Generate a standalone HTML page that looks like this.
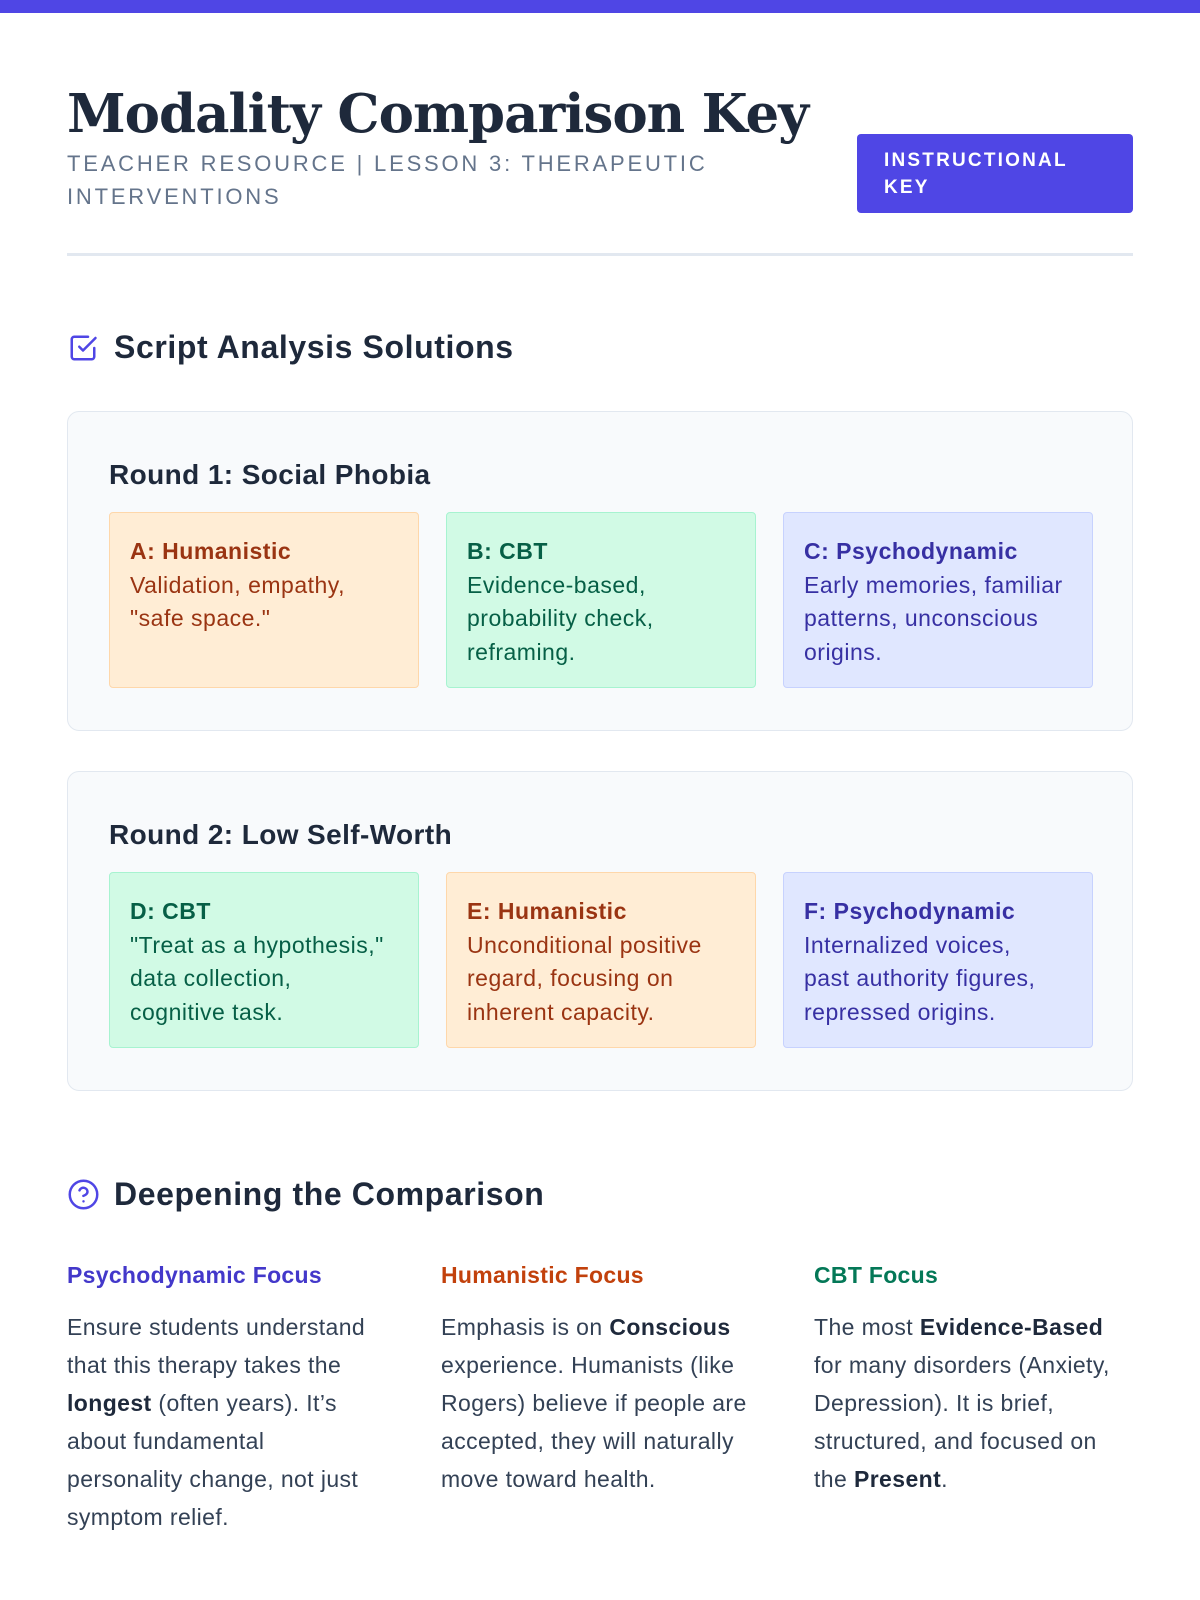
<!DOCTYPE html>
<html><head><meta charset="utf-8"><style>
*{margin:0;padding:0;box-sizing:border-box}
body{width:1200px;height:1600px;background:#fff;position:relative;font-family:"Liberation Sans",sans-serif;color:#1e293b;overflow:hidden}
.a{position:absolute}
.bar{left:0;top:0;width:1200px;height:13px;background:#4f46e5}
h1{position:absolute;left:67px;top:83px;font-family:"DejaVu Serif","Liberation Serif",serif;font-weight:bold;font-size:53px;color:#1e293b;letter-spacing:-1px;white-space:nowrap}
.sub{left:67px;top:147px;width:700px;font-size:22px;line-height:33px;letter-spacing:2.8px;color:#64748b;text-transform:uppercase}
.badge{left:857px;top:134px;width:276px;height:79px;background:#4f46e5;border-radius:4px;color:#fff;font-weight:bold;font-size:19px;letter-spacing:2.2px;line-height:27px;padding:13px 27px}
.hr{left:67px;top:253px;width:1066px;height:3px;background:#e2e8f0}
.sh{font-size:32px;font-weight:bold;color:#1e293b;white-space:nowrap;letter-spacing:0.6px}
.card{left:67px;width:1066px;background:#f8fafc;border:1.5px solid #e2e8f0;border-radius:12px}
.rt{font-size:28px;font-weight:bold;color:#1e293b;white-space:nowrap;letter-spacing:0.4px}
.box{width:310px;height:176px;border:1.5px solid;border-radius:4px;padding:22px 10px 22px 20px;font-size:23px;line-height:33.5px;letter-spacing:0.5px;white-space:nowrap}
.box b{display:block}
.h{background:#ffedd5;border-color:#fed7aa;color:#9a3412}
.c{background:#d1fae5;border-color:#a7f3d0;color:#065f46}
.p{background:#e0e7ff;border-color:#c7d2fe;color:#3730a3}
.ct{font-size:23px;font-weight:bold;white-space:nowrap;letter-spacing:0.3px}
.col{width:318px;font-size:23px;line-height:38px;color:#334155;letter-spacing:0.4px}
.col b{color:#1e293b}
</style></head><body>
<div class="a bar"></div>
<h1>Modality Comparison Key</h1>
<div class="a sub">Teacher Resource | Lesson 3: Therapeutic Interventions</div>
<div class="a badge">INSTRUCTIONAL KEY</div>
<div class="a hr"></div>

<svg class="a" style="left:68px;top:333px" width="30" height="30" viewBox="0 0 24 24" fill="none" stroke="#4f46e5" stroke-width="2" stroke-linecap="round" stroke-linejoin="round"><path d="M9 11l3 3L22 4"/><path d="M21 12v7a2 2 0 0 1-2 2H5a2 2 0 0 1-2-2V5a2 2 0 0 1 2-2h11"/></svg>
<div class="a sh" style="left:114px;top:329px">Script Analysis Solutions</div>

<div class="a card" style="top:411px;height:320px"></div>
<div class="a rt" style="left:109px;top:459px">Round 1: Social Phobia</div>
<div class="a box h" style="left:109px;top:512px"><b>A: Humanistic</b>Validation, empathy,<br>"safe space."</div>
<div class="a box c" style="left:446px;top:512px"><b>B: CBT</b>Evidence-based,<br>probability check,<br>reframing.</div>
<div class="a box p" style="left:783px;top:512px"><b>C: Psychodynamic</b>Early memories, familiar<br>patterns, unconscious<br>origins.</div>

<div class="a card" style="top:771px;height:320px"></div>
<div class="a rt" style="left:109px;top:819px">Round 2: Low Self-Worth</div>
<div class="a box c" style="left:109px;top:872px"><b>D: CBT</b>"Treat as a hypothesis,"<br>data collection,<br>cognitive task.</div>
<div class="a box h" style="left:446px;top:872px"><b>E: Humanistic</b>Unconditional positive<br>regard, focusing on<br>inherent capacity.</div>
<div class="a box p" style="left:783px;top:872px"><b>F: Psychodynamic</b>Internalized voices,<br>past authority figures,<br>repressed origins.</div>

<svg class="a" style="left:67px;top:1178px" width="33" height="33" viewBox="0 0 24 24" fill="none" stroke="#4f46e5" stroke-width="1.8" stroke-linecap="round"><circle cx="12" cy="12" r="10"/><path d="M9.1 9a3 3 0 0 1 5.8 1c0 2-3 3-3 3"/><path d="M12 17h.01"/></svg>
<div class="a sh" style="left:114px;top:1176px">Deepening the Comparison</div>

<div class="a ct" style="left:67px;top:1262px;color:#4338ca">Psychodynamic Focus</div>
<div class="a ct" style="left:441px;top:1262px;color:#c2410c">Humanistic Focus</div>
<div class="a ct" style="left:814px;top:1262px;color:#047857">CBT Focus</div>
<div class="a col" style="left:67px;top:1308px">Ensure students understand that this therapy takes the <b>longest</b> (often years). It’s about fundamental personality change, not just symptom relief.</div>
<div class="a col" style="left:441px;top:1308px">Emphasis is on <b>Conscious</b> experience. Humanists (like Rogers) believe if people are accepted, they will naturally move toward health.</div>
<div class="a col" style="left:814px;top:1308px">The most <b>Evidence-Based</b> for many disorders (Anxiety, Depression). It is brief, structured, and focused on the <b>Present</b>.</div>
</body></html>
